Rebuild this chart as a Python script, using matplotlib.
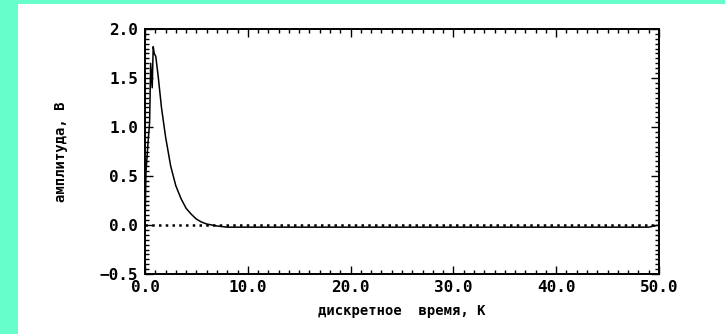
import matplotlib
matplotlib.use("Agg")
import matplotlib.pyplot as plt
from matplotlib.patches import Rectangle
from matplotlib.ticker import MultipleLocator, FuncFormatter

# discrete time K and amplitude (V)
k_values = [0.0, 0.1, 0.3, 0.45, 0.55, 0.7, 0.8, 0.9, 1.05, 1.3, 1.6, 2.0, 2.5,
            3.0, 3.5, 4.0, 4.5, 5.0, 5.5, 6.0, 7.0, 8.0, 10.0, 20.0, 30.0,
            40.0, 49.0, 50.0]
amplitude = [0.0, 0.55, 0.85, 1.05, 1.65, 1.4, 1.82, 1.75, 1.72, 1.5, 1.2, 0.9,
             0.6, 0.4, 0.27, 0.17, 0.11, 0.06, 0.03, 0.01, -0.01, -0.022, -0.022,
             -0.022, -0.022, -0.022, -0.022, 0.0]

x_ticks = [0.0, 10.0, 20.0, 30.0, 40.0, 50.0]
y_ticks = [-0.5, 0.0, 0.5, 1.0, 1.5, 2.0]
x_label = "дискретное  время, К"
y_label = "амплитуда, В"

W, H = 725, 334
fig = plt.figure(figsize=(W / 100, H / 100), dpi=100, facecolor="#66FFCC")
fig.patches.append(Rectangle((18 / W, 0), 1 - 18 / W, 1 - 4 / H,
                             transform=fig.transFigure, facecolor="white",
                             edgecolor="none", zorder=-10))

ax = fig.add_axes([145 / W, (H - 274) / H, (659 - 145) / W, (274 - 29) / H])
ax.set_zorder(5)
ax.set_facecolor("white")

ax.plot(k_values, amplitude, color="black", lw=1.1, zorder=3)
ax.axhline(0.0, color="black", lw=1.8, ls=(0, (1, 1.7)), zorder=4)

ax.set_xlim(x_ticks[0], x_ticks[-1])
ax.set_ylim(y_ticks[0], y_ticks[-1])
ax.set_xticks(x_ticks)
ax.set_yticks(y_ticks)
ax.xaxis.set_minor_locator(MultipleLocator(1.0))
ax.yaxis.set_minor_locator(MultipleLocator(0.05))
fmt = FuncFormatter(lambda v, p: ("%.1f" % v).replace("-", "\u2212"))
ax.xaxis.set_major_formatter(fmt)
ax.yaxis.set_major_formatter(fmt)

for s in ax.spines.values():
    s.set_linewidth(1.4)

font = {"family": "DejaVu Sans Mono", "weight": "bold"}
ax.tick_params(which="both", direction="in", top=True, right=True,
               width=1.0, color="black")
ax.tick_params(which="major", length=6)
ax.tick_params(which="minor", length=2.8)
ax.tick_params(axis="x", pad=4)
ax.tick_params(axis="y", pad=5)
for lab in ax.get_xticklabels() + ax.get_yticklabels():
    lab.set_fontfamily(font["family"])
    lab.set_fontweight("bold")
    lab.set_fontsize(11.5)

ax.set_xlabel(x_label, fontdict=font, fontsize=10, labelpad=7)
ax.set_ylabel(y_label, fontdict=font, fontsize=10, labelpad=23)

fig.savefig("out.png", dpi=100, facecolor=fig.get_facecolor())
